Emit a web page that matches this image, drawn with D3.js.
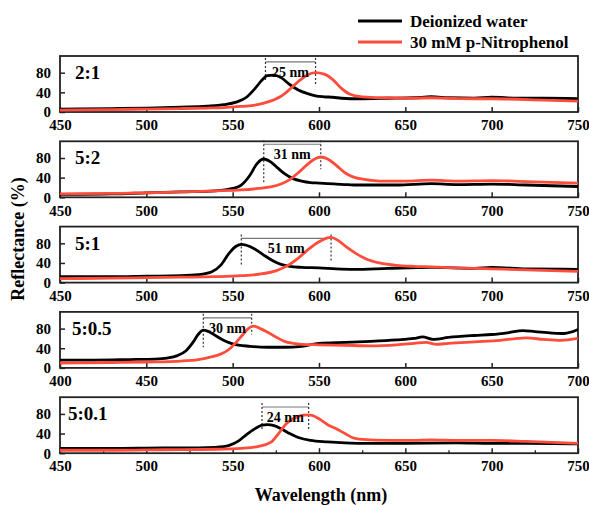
<!DOCTYPE html>
<html><head><meta charset="utf-8">
<script src="https://cdn.jsdelivr.net/npm/d3@7"></script>
<style>body{margin:0;background:#fff}svg{display:block}</style>
</head><body>
<svg id="c" width="589" height="505"></svg>
<script>
// ---- data ----
const ratioLabels = ["2:1","5:2","5:1","5:0.5","5:0.1"];
const xDomains = [[450,750],[450,750],[450,750],[400,700],[450,750]];
const yTicks = [0,40,80];
const seriesNames = ["Deionized water","30 mM p-Nitrophenol"];

const wlWater1 = [450,480,500,520,535,545,552,558,563,567,570,574,578,583,588,593,598,603,608,613,618,625,640,655,665,675,690,700,715,730,750];
const water1   = [6,7,8,10,12,15,20,30,48,65,74,75,70,56,45,38,33,31,30,28,27,27,28,29,31,29,28,30,28,28,27];
const wlPnp1   = [450,480,500,520,535,545,552,558,563,567,570,574,578,583,588,593,598,603,608,613,618,625,640,655,665,675,690,700,715,730,750];
const pnp1     = [4,5,6,7,8,9,11,12,14,17,20,25,32,46,62,75,80,77,66,48,36,31,29,28,29,28,27,27,26,24,22];

const wlWater2 = [450,480,500,520,540,550,555,560,564,568,572,576,580,585,590,595,600,605,610,615,620,630,645,665,680,700,720,750];
const water2   = [6,7,9,11,13,18,25,45,68,78,72,60,48,38,33,30,29,28,27,26,25,25,25,28,26,27,25,22];
const wlPnp2   = [450,480,500,520,540,555,565,572,578,583,588,593,597,601,605,610,615,620,627,635,650,665,680,700,720,750];
const pnp2     = [7,8,9,11,13,15,18,21,27,36,50,66,77,82,78,65,50,41,36,33,33,35,33,34,32,29];

const wlWater3 = [450,480,500,520,530,538,543,548,552,555,558,563,568,573,578,583,590,600,610,620,640,665,690,700,720,750];
const water3   = [12,12,13,14,16,22,35,60,74,78,76,68,56,45,37,33,31,30,28,27,29,31,29,31,28,27];
const wlPnp3   = [450,480,500,520,540,555,565,575,582,588,594,600,604,607,611,616,622,628,635,645,655,665,680,700,720,750];
const pnp3     = [8,9,10,11,12,14,17,24,35,50,68,83,90,92,86,72,58,47,40,35,33,32,30,28,26,23];

const wlWater4 = [400,420,440,455,462,468,473,477,480,483,486,490,495,500,510,520,530,540,550,565,580,595,605,610,616,625,640,650,660,668,675,685,692,700];
const water4   = [16,16,17,18,20,25,35,52,68,77,74,66,56,49,44,42,42,44,50,52,54,57,60,63,58,62,66,68,72,76,74,71,70,78];
const wlPnp4   = [400,430,450,470,480,487,493,498,502,506,509,512,516,520,525,530,535,540,550,565,580,595,605,612,618,625,640,655,665,670,680,690,700];
const pnp4     = [10,11,12,14,17,22,28,38,52,68,80,85,80,73,63,54,50,48,47,46,45,47,50,52,48,50,53,56,60,61,58,56,60];

const wlWater5 = [450,480,510,530,540,548,553,558,563,567,570,574,578,583,588,595,605,615,625,650,680,700,720,750];
const water5   = [10,10,11,11,12,16,24,38,50,57,58,56,50,40,32,26,23,21,20,20,21,20,20,19];
const wlPnp5   = [450,480,510,540,555,565,572,577,581,585,589,593,596,600,605,610,615,620,625,640,655,665,680,700,720,750];
const pnp5     = [6,6,7,8,10,14,22,42,60,70,76,78,77,70,58,50,40,31,28,26,26,27,26,26,24,20];

const peakWater = [569,568,555,483,567];
const peakPnp   = [598,601,607,511,594];
const shiftLabels = ["25 nm","31 nm","51 nm","30 nm","24 nm"];
const bracketLevel = [102,108,90,102,94];
const dotEndWater = [62,30,35,42,49];
const dotEndPnp   = [55,57,45,68,49];

const waterSets = [[wlWater1,water1],[wlWater2,water2],[wlWater3,water3],[wlWater4,water4],[wlWater5,water5]];
const pnpSets   = [[wlPnp1,pnp1],[wlPnp2,pnp2],[wlPnp3,pnp3],[wlPnp4,pnp4],[wlPnp5,pnp5]];

// ---- drawing ----
const svg = d3.select("#c");
const FONT = "'Liberation Serif','Times New Roman',serif";
const RED = "#ff4c3b";
const left = 60, right = 578, ph = 56;
const colors = ["#000", RED];

ratioLabels.forEach((lab, i) => {
  const top = 56 + i*85.3;
  const x = d3.scaleLinear().domain(xDomains[i]).range([left, right]);
  const y = d3.scaleLinear().domain([0,114]).range([top+ph, top]);
  const g = svg.append("g");
  const clipId = "clip"+i;
  svg.append("clipPath").attr("id", clipId).append("rect")
    .attr("x", left).attr("y", top).attr("width", right-left).attr("height", ph);

  // axes
  const xa = d3.axisBottom(x).tickValues(d3.range(xDomains[i][0], xDomains[i][1]+1, 50))
    .tickSize(-5).tickPadding(10).tickFormat(d3.format("d"));
  const gx = g.append("g").attr("transform", `translate(0,${top+ph})`).call(xa);
  if (i === 4) {
    g.append("g").attr("transform", `translate(0,${top+ph})`)
      .call(d3.axisBottom(x).tickValues(d3.range(475, 750, 50)).tickSize(-3).tickFormat(""))
      .call(s => s.select(".domain").remove())
      .selectAll("line").attr("stroke", "#222").attr("stroke-width", 1.3);
  }
  const ya = d3.axisLeft(y).tickValues(yTicks).tickSize(-5).tickPadding(9);
  const gy = g.append("g").attr("transform", `translate(${left},0)`).call(ya);
  [gx, gy].forEach(a => {
    a.select(".domain").remove();
    a.selectAll("line").attr("stroke", "#222").attr("stroke-width", 1.5);
    a.selectAll("text").attr("font-family", FONT).attr("font-weight", "bold")
      .attr("font-size", 15).attr("fill", "#000");
  });
  gx.selectAll("text").attr("dy", "0.55em");

  // frame
  g.append("rect").attr("x", left).attr("y", top).attr("width", right-left).attr("height", ph)
    .attr("fill", "none").attr("stroke", "#222").attr("stroke-width", 1.8);

  // annotation
  const xb = x(peakWater[i]), xr = x(peakPnp[i]), yb = y(bracketLevel[i]);
  g.append("line").attr("x1", xb).attr("x2", xr).attr("y1", yb).attr("y2", yb)
    .attr("stroke", "#777").attr("stroke-width", 1.2);
  g.append("line").attr("x1", xb).attr("x2", xb).attr("y1", yb-4).attr("y2", y(dotEndWater[i]))
    .attr("stroke", "#333").attr("stroke-width", 1.2).attr("stroke-dasharray", "2,2");
  g.append("line").attr("x1", xr).attr("x2", xr).attr("y1", yb-4).attr("y2", y(dotEndPnp[i]))
    .attr("stroke", "#333").attr("stroke-width", 1.2).attr("stroke-dasharray", "2,2");

  // curves
  const line = d3.line().x(d => x(d[0])).y(d => y(d[1])).curve(d3.curveMonotoneX);
  [waterSets[i], pnpSets[i]].forEach((s, k) => {
    const pts = s[0].map((w, j) => [w, s[1][j]]);
    g.append("path").attr("d", line(pts)).attr("fill", "none")
      .attr("stroke", colors[k]).attr("stroke-width", 2.8)
      .attr("stroke-linejoin", "round").attr("clip-path", `url(#${clipId})`);
  });
  g.append("text").attr("x", (xb+xr)/2).attr("y", yb+15).attr("text-anchor", "middle")
    .attr("font-family", FONT).attr("font-weight", "bold").attr("font-size", 14)
    .text(shiftLabels[i]);

  g.append("text").attr("x", i===4 ? 68 : (i===3 ? 72 : 75)).attr("y", top+23)
    .attr("font-family", FONT).attr("font-weight", "bold").attr("font-size", 19)
    .text(lab);
});

// axis titles
svg.append("text").attr("x", 321).attr("y", 501).attr("text-anchor", "middle")
  .attr("font-family", FONT).attr("font-weight", "bold").attr("font-size", 18)
  .text("Wavelength (nm)");
svg.append("text").attr("transform", "translate(24,239) rotate(-90)").attr("text-anchor", "middle")
  .attr("font-family", FONT).attr("font-weight", "bold").attr("font-size", 18)
  .text("Reflectance (%)");

// legend
seriesNames.forEach((n, k) => {
  const ly = 21 + k*21;
  svg.append("line").attr("x1", 358).attr("x2", 402).attr("y1", ly).attr("y2", ly)
    .attr("stroke", colors[k]).attr("stroke-width", 2.8);
  svg.append("text").attr("x", 410).attr("y", ly+6)
    .attr("font-family", FONT).attr("font-weight", "bold").attr("font-size", 17)
    .text(n);
});
</script>
</body></html>
